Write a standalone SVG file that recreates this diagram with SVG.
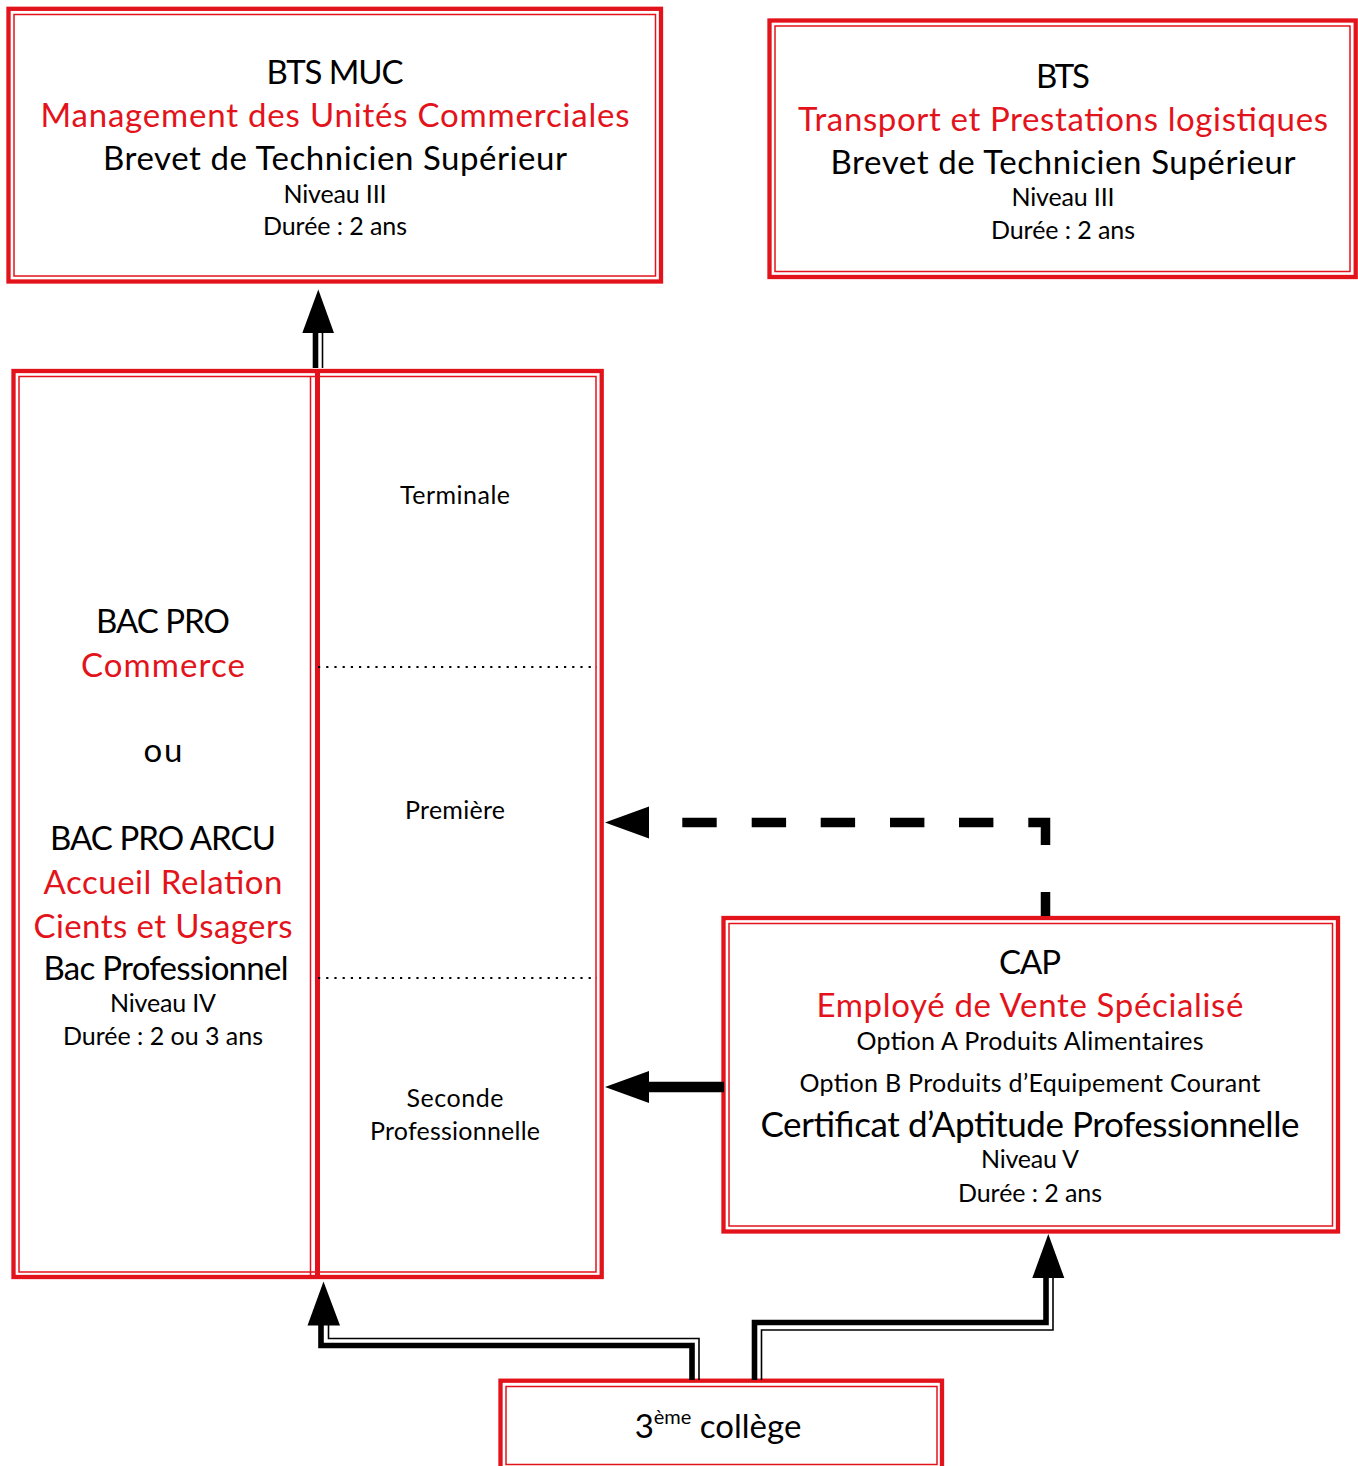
<svg xmlns="http://www.w3.org/2000/svg" width="1358" height="1466" viewBox="0 0 1358 1466">
<style>
.outer{fill:none;stroke:#e3131b;stroke-width:4.3}
.inner{fill:none;stroke:#e3131b;stroke-width:1.5}
text{font-family:Lato,"Liberation Sans",sans-serif;text-anchor:middle;fill:#000}
.big{font-size:33px}
.sm{font-size:25px}
.red{fill:#e3131b}
.thick{fill:none;stroke:#000;stroke-width:5.6}
.thin{fill:none;stroke:#000;stroke-width:1.6}
.dot{fill:none;stroke:#000;stroke-width:2.2;stroke-dasharray:2.2 6}
</style>
<rect width="1358" height="1466" fill="#fff"/>
<g id="bts-muc">
<rect class="outer" x="8.5" y="8.8" width="652.5" height="272.7"/>
<rect class="inner" x="14" y="14.5" width="641.5" height="261.5"/>
<text class="big" x="335" y="84" textLength="137">BTS MUC</text>
<text class="big red" x="335" y="127" textLength="589">Management des Unités Commerciales</text>
<text class="big" x="335" y="170" textLength="464">Brevet de Technicien Supérieur</text>
<text class="sm" x="335" y="203" textLength="103">Niveau III</text>
<text class="sm" x="335" y="235" textLength="144">Durée : 2 ans</text>
</g>
<g id="bts-tpl">
<rect class="outer" x="769.5" y="20.5" width="586.2" height="256.5"/>
<rect class="inner" x="775" y="26" width="575" height="245.5"/>
<text class="big" x="1063" y="88" textLength="54">BTS</text>
<text class="big red" x="1063" y="131" textLength="530">Transport et Prestations logistiques</text>
<text class="big" x="1063" y="174" textLength="465">Brevet de Technicien Supérieur</text>
<text class="sm" x="1063" y="206" textLength="103">Niveau III</text>
<text class="sm" x="1063" y="239" textLength="144">Durée : 2 ans</text>
</g>
<g id="bac-pro">
<rect class="outer" x="13.5" y="371" width="588.2" height="906"/>
<rect class="inner" x="19" y="376.5" width="577" height="895.5"/>
<line x1="310.5" y1="377" x2="310.5" y2="1278" stroke="#e3131b" stroke-width="1.5"/>
<line x1="317.5" y1="373" x2="317.5" y2="1279" stroke="#e3131b" stroke-width="5"/>
<line class="dot" x1="318" y1="667" x2="597" y2="667"/>
<line class="dot" x1="318" y1="978" x2="597" y2="978"/>
<text class="big" x="163" y="633" textLength="134">BAC PRO</text>
<text class="big red" x="163" y="677" textLength="164">Commerce</text>
<text class="big" x="163" y="762" textLength="39">ou</text>
<text class="big" x="163" y="850" textLength="226">BAC PRO ARCU</text>
<text class="big red" x="163" y="894" textLength="239">Accueil Relation</text>
<text class="big red" x="163" y="938" textLength="259">Cients et Usagers</text>
<text class="big" x="166" y="980" textLength="245">Bac Professionnel</text>
<text class="sm" x="163" y="1012" textLength="106">Niveau IV</text>
<text class="sm" x="163" y="1045" textLength="200">Durée : 2 ou 3 ans</text>
<text class="sm" x="455" y="504" textLength="110">Terminale</text>
<text class="sm" x="455" y="819" textLength="100">Première</text>
<text class="sm" x="455" y="1107" textLength="97">Seconde</text>
<text class="sm" x="455" y="1140" textLength="170">Professionnelle</text>
</g>
<g id="cap">
<rect class="outer" x="723.5" y="918" width="614.5" height="313.5"/>
<rect class="inner" x="729" y="923.5" width="603.5" height="302.5"/>
<text class="big" x="1030" y="974" textLength="62">CAP</text>
<text class="big red" x="1030" y="1017" textLength="427">Employé de Vente Spécialisé</text>
<text class="sm" x="1030" y="1050" textLength="347">Option A Produits Alimentaires</text>
<text class="sm" x="1030" y="1092" textLength="461">Option B Produits d’Equipement Courant</text>
<text x="1030" y="1137" font-size="35" textLength="539">Certificat d’Aptitude Professionnelle</text>
<text class="sm" x="1030" y="1168" textLength="98">Niveau V</text>
<text class="sm" x="1030" y="1202" textLength="144">Durée : 2 ans</text>
</g>
<g id="college">
<rect class="outer" x="500.5" y="1380.7" width="441.5" height="90"/>
<rect class="inner" x="506" y="1386.5" width="431" height="78"/>
<text x="718" y="1438" font-size="33">3<tspan font-size="20" dy="-14">ème</tspan><tspan dy="14"> collège</tspan></text>
</g>
<g id="connectors">
<line class="thick" x1="315.5" y1="368" x2="315.5" y2="331"/>
<line class="thin" x1="322.5" y1="368" x2="322.5" y2="331"/>
<polygon points="318.3,289.5 302.3,333 334,333"/>
<path class="thick" d="M692 1380 V1345.5 H321 V1324"/>
<path class="thin" d="M699 1380 V1338.5 H328.5 V1324"/>
<polygon points="323.5,1281.5 307.5,1325.5 340,1325.5"/>
<path class="thick" d="M754.5 1380 V1322.5 H1046 V1276"/>
<path class="thin" d="M761.5 1380 V1330 H1053 V1276"/>
<polygon points="1048.3,1234 1032.3,1278 1064.3,1278"/>
<line x1="724" y1="1087" x2="646" y2="1087" stroke="#000" stroke-width="10.5"/>
<polygon points="605,1087 649,1071 649,1103"/>
<path d="M649 822.5 H1045.5 V916" fill="none" stroke="#000" stroke-width="9.5" stroke-linejoin="miter" stroke-dasharray="0 33.3 34.4 35 34.4 34.6 34.4 34.9 34.4 34.6 34.4 34.9 39.7 47 60 1000"/>
<polygon points="605,822.5 649,806.5 649,838.5"/>
</g>
</svg>
